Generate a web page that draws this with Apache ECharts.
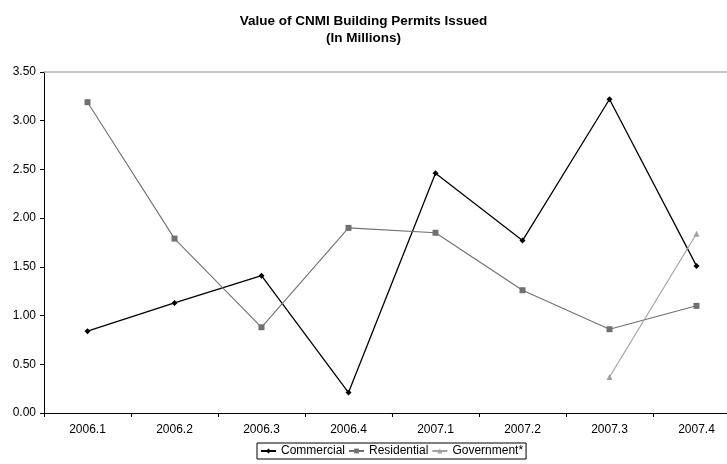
<!DOCTYPE html>
<html>
<head>
<meta charset="utf-8">
<script src="https://cdn.jsdelivr.net/npm/echarts@6/dist/echarts.min.js"></script>
<style>
html,body{margin:0;padding:0;background:#fff;}
#c{width:727px;height:464px;}
</style>
</head>
<body>
<div id="c"></div>
<script>
const categories = ['2006.1','2006.2','2006.3','2006.4','2007.1','2007.2','2007.3','2007.4'];
const commercial = [0.84, 1.13, 1.41, 0.21, 2.46, 1.77, 3.22, 1.51];
const residential = [3.19, 1.79, 0.88, 1.90, 1.85, 1.26, 0.86, 1.10];
const government = [null, null, null, null, null, null, 0.37, 1.84];

const chart = echarts.init(document.getElementById('c'));
const font = 'Liberation Sans, Arial, sans-serif';
chart.setOption({
  animation: false,
  backgroundColor: '#fff',
  title: {
    text: 'Value of CNMI Building Permits Issued\n(In Millions)',
    left: 'center',
    top: 8,
    textStyle: {fontFamily: font, fontSize: 13.5, fontWeight: 'bold', color: '#000', lineHeight: 17}
  },
  legend: {
    left: 257, top: 443,
    padding: [2, 3, 2, 3],
    borderColor: '#000', borderWidth: 1, borderRadius: 0,
    itemWidth: 15, itemHeight: 6, itemGap: 3,
    textStyle: {fontFamily: font, fontSize: 12, color: '#000'},
    data: ['Commercial','Residential','Government*']
  },
  grid: {left: 44, top: 72, width: 696, height: 341, outerBoundsMode: 'none', containLabel: false},
  xAxis: [{
    type: 'category', data: categories, boundaryGap: true,
    axisLine: {lineStyle: {color: '#000', width: 1}},
    axisTick: {show: true, length: 4, inside: false, lineStyle: {color: '#000'}},
    axisLabel: {fontFamily: font, fontSize: 12, color: '#000', margin: 11},
    splitLine: {show: false}
  }, {
    type: 'category', data: categories, position: 'top',
    axisLine: {show: true, lineStyle: {color: '#b4b4b4', width: 1.5}},
    axisTick: {show: false}, axisLabel: {show: false}, splitLine: {show: false}
  }],
  yAxis: {
    type: 'value', min: 0, max: 3.5, interval: 0.5,
    axisLine: {show: true, lineStyle: {color: '#000', width: 1}},
    axisTick: {show: true, length: 4, lineStyle: {color: '#000'}},
    axisLabel: {fontFamily: font, fontSize: 12, color: '#000', margin: 8,
      formatter: v => v.toFixed(2)},
    splitLine: {show: false}
  },
  series: [{
    name: 'Commercial', type: 'line', data: commercial,
    symbol: 'diamond', symbolSize: 6,
    lineStyle: {color: '#000', width: 1.3},
    itemStyle: {color: '#000'}
  }, {
    name: 'Residential', type: 'line', data: residential,
    symbol: 'rect', symbolSize: 6,
    lineStyle: {color: '#707070', width: 1.1},
    itemStyle: {color: '#707070'}
  }, {
    name: 'Government*', type: 'line', data: government,
    symbol: 'triangle', symbolSize: 6, connectNulls: false,
    lineStyle: {color: '#a0a0a0', width: 1.1},
    itemStyle: {color: '#a0a0a0'}
  }]
});
</script>
</body>
</html>
